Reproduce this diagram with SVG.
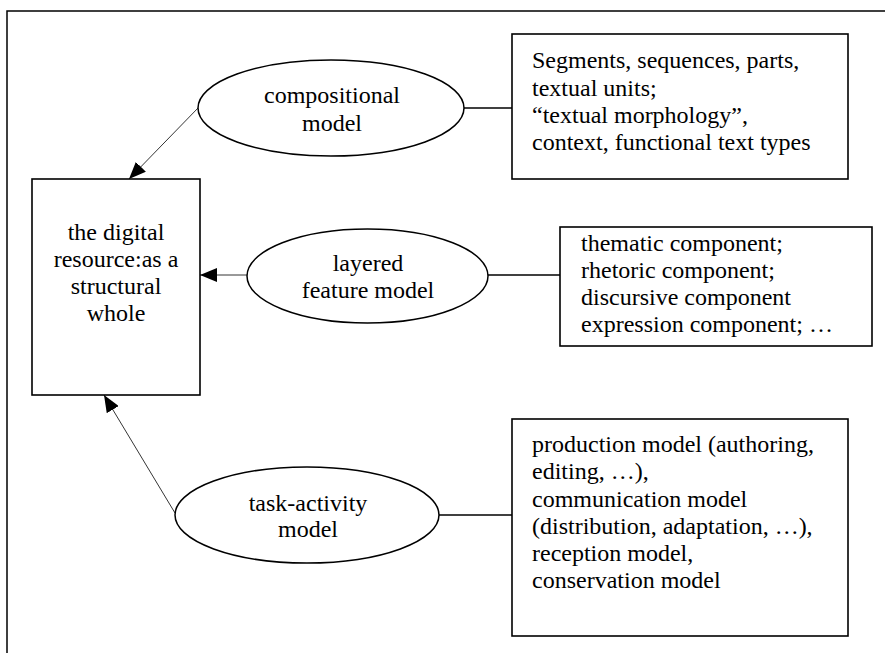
<svg xmlns="http://www.w3.org/2000/svg" width="885" height="653" viewBox="0 0 885 653">
<style>
.frame{fill:none;stroke:#000;stroke-width:1.5}
.box{fill:#fff;stroke:#000;stroke-width:1.6}
.ell{fill:#fff;stroke:#000;stroke-width:1.5}
.t{font-family:"Liberation Serif","Times New Roman",serif;font-size:24px;fill:#000}
.c{text-anchor:middle}
.link{stroke:#000;stroke-width:1.5;fill:none}
.arr{stroke:#000;stroke-width:0.8;fill:none;marker-end:url(#ah)}
</style>
<defs>
<marker id="ah" markerUnits="userSpaceOnUse" markerWidth="18" markerHeight="14" refX="17" refY="7" orient="auto">
<path d="M0,0 L17,7 L0,14 Z" fill="#000"/>
</marker>
</defs>
<rect class="frame" x="7" y="11" width="900" height="700"/>
<g id="connectors">
<line class="link" x1="464" y1="108" x2="512" y2="108"/>
<line class="link" x1="488" y1="275" x2="560" y2="275"/>
<line class="link" x1="439" y1="515" x2="512" y2="515"/>
<line class="arr" x1="199" y1="107" x2="129" y2="179"/>
<line class="arr" x1="247" y1="275" x2="200" y2="275"/>
<line class="arr" x1="175" y1="513" x2="104" y2="395"/>
</g>
<g id="resource">
<rect class="box" x="32" y="179" width="168" height="216"/>
<text class="t c" x="116" y="240">the digital</text>
<text class="t c" x="116" y="267">resource:as a</text>
<text class="t c" x="116" y="294">structural</text>
<text class="t c" x="116" y="321">whole</text>
</g>
<g id="compositional">
<ellipse class="ell" cx="331" cy="108" rx="133" ry="48"/>
<text class="t c" x="332" y="103">compositional</text>
<text class="t c" x="332" y="131">model</text>
</g>
<g id="layered">
<ellipse class="ell" cx="367.5" cy="276" rx="120.5" ry="47"/>
<text class="t c" x="368" y="271">layered</text>
<text class="t c" x="368" y="298">feature model</text>
</g>
<g id="task">
<ellipse class="ell" cx="307" cy="515" rx="132" ry="48"/>
<text class="t c" x="308" y="511">task-activity</text>
<text class="t c" x="308" y="537">model</text>
</g>
<g id="box-compositional">
<rect class="box" x="512" y="34" width="336" height="145"/>
<text class="t" x="532" y="68">Segments, sequences, parts,</text>
<text class="t" x="532" y="96">textual units;</text>
<text class="t" x="532" y="123">“textual morphology”,</text>
<text class="t" x="532" y="150">context, functional text types</text>
</g>
<g id="box-layered">
<rect class="box" x="560" y="227" width="312" height="119"/>
<text class="t" x="581" y="251">thematic component;</text>
<text class="t" x="581" y="278">rhetoric component;</text>
<text class="t" x="581" y="305">discursive component</text>
<text class="t" x="581" y="332">expression component; …</text>
</g>
<g id="box-task">
<rect class="box" x="512" y="419" width="336" height="217"/>
<text class="t" x="532" y="452">production model (authoring,</text>
<text class="t" x="532" y="479">editing, …),</text>
<text class="t" x="532" y="507">communication model</text>
<text class="t" x="532" y="534">(distribution, adaptation, …),</text>
<text class="t" x="532" y="561">reception model,</text>
<text class="t" x="532" y="588">conservation model</text>
</g>
</svg>
